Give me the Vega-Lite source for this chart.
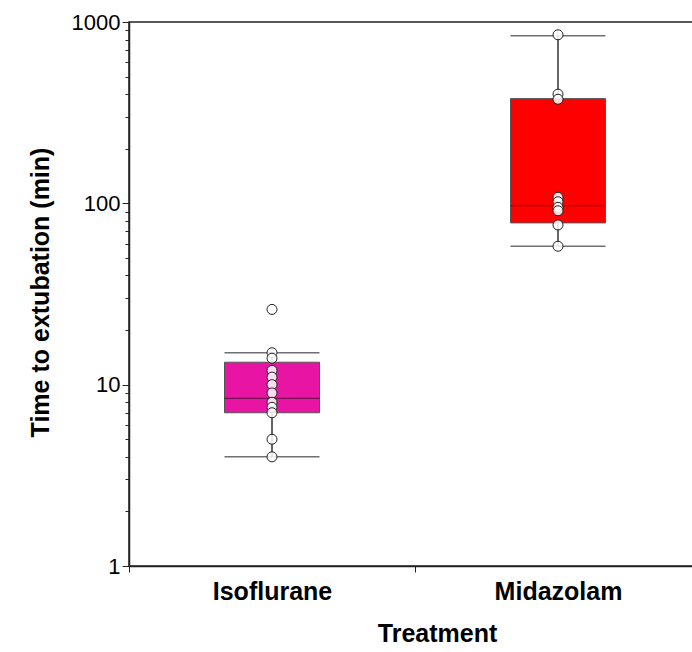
{
  "$schema": "https://vega.github.io/schema/vega-lite/v6.json",
  "width": 572,
  "height": 544,
  "autosize": "none",
  "padding": {"left": 129, "top": 22, "right": 0, "bottom": 86},
  "background": "white",
  "config": {
    "font": "Liberation Sans",
    "view": {"stroke": "#222222", "strokeWidth": 1.5}
  },
  "datasets": {
    "summary": [
      {"Treatment": "Isoflurane", "min": 4, "q1": 7, "median": 8.4, "q3": 13.3, "max": 15},
      {"Treatment": "Midazolam", "min": 58, "q1": 78, "median": 97, "q3": 378, "max": 840}
    ],
    "points": [
      {"Treatment": "Isoflurane", "time": 26},
      {"Treatment": "Isoflurane", "time": 15},
      {"Treatment": "Isoflurane", "time": 14},
      {"Treatment": "Isoflurane", "time": 12},
      {"Treatment": "Isoflurane", "time": 11},
      {"Treatment": "Isoflurane", "time": 10},
      {"Treatment": "Isoflurane", "time": 9},
      {"Treatment": "Isoflurane", "time": 8},
      {"Treatment": "Isoflurane", "time": 7.5},
      {"Treatment": "Isoflurane", "time": 7},
      {"Treatment": "Isoflurane", "time": 5},
      {"Treatment": "Isoflurane", "time": 4},
      {"Treatment": "Midazolam", "time": 850},
      {"Treatment": "Midazolam", "time": 400},
      {"Treatment": "Midazolam", "time": 375},
      {"Treatment": "Midazolam", "time": 108},
      {"Treatment": "Midazolam", "time": 102},
      {"Treatment": "Midazolam", "time": 95},
      {"Treatment": "Midazolam", "time": 91},
      {"Treatment": "Midazolam", "time": 76},
      {"Treatment": "Midazolam", "time": 58}
    ]
  },
  "encoding": {
    "x": {
      "field": "Treatment",
      "type": "nominal",
      "sort": ["Isoflurane", "Midazolam"],
      "scale": {"domain": ["Isoflurane", "Midazolam"], "paddingInner": 0, "paddingOuter": 0},
      "axis": {
        "title": "Treatment",
        "labelAngle": 0,
        "labelFont": "Liberation Sans",
        "labelFontSize": 25,
        "labelFontWeight": "bold",
        "labelColor": "black",
        "labelPadding": 7,
        "tickBand": "extent",
        "tickSize": 6,
        "tickColor": "#222222",
        "domainColor": "#222222",
        "domainWidth": 1.5,
        "titleFont": "Liberation Sans",
        "titleFontSize": 25,
        "titleFontWeight": "bold",
        "titleColor": "black",
        "titleX": 308,
        "titleY": 67,
        "titleBaseline": "middle",
        "titleAlign": "center"
      }
    }
  },
  "layer": [
    {
      "data": {"name": "summary"},
      "mark": {"type": "rule", "color": "#333333", "strokeWidth": 1.5},
      "encoding": {
        "y": {
          "field": "min",
          "type": "quantitative",
          "scale": {"type": "log", "domain": [1, 1000], "nice": false},
          "axis": {
            "title": "Time to extubation (min)",
            "values": [1, 2, 3, 4, 5, 6, 7, 8, 9, 10, 20, 30, 40, 50, 60, 70, 80, 90, 100, 200, 300, 400, 500, 600, 700, 800, 900, 1000],
            "format": "d",
            "labelExpr": "indexof([1, 10, 100, 1000], datum.value) >= 0 ? datum.label : ''",
            "tickSize": {"condition": {"test": "indexof([1, 10, 100, 1000], datum.value) >= 0", "value": 7}, "value": 4},
            "tickColor": "#222222",
            "domainColor": "#222222",
            "domainWidth": 1.5,
            "grid": false,
            "labelFont": "Liberation Sans",
            "labelFontSize": 22,
            "labelColor": "black",
            "labelPadding": 2,
            "labelOverlap": false,
            "titleFont": "Liberation Sans",
            "titleFontSize": 25,
            "titleFontWeight": "bold",
            "titleColor": "black",
            "titleAngle": 270,
            "titleX": -89,
            "titleY": 270,
            "titleBaseline": "middle",
            "titleAlign": "center"
          }
        },
        "y2": {"field": "max"}
      }
    },
    {
      "data": {"name": "summary"},
      "mark": {"type": "bar", "size": 95, "stroke": "#555555", "strokeWidth": 1},
      "encoding": {
        "y": {"field": "q1", "type": "quantitative"},
        "y2": {"field": "q3"},
        "color": {
          "field": "Treatment",
          "type": "nominal",
          "scale": {"domain": ["Isoflurane", "Midazolam"], "range": ["#e815a4", "#ff0000"]},
          "legend": null
        }
      }
    },
    {
      "data": {"name": "summary"},
      "mark": {"type": "tick", "size": 95, "thickness": 1.2, "color": "black", "opacity": 0.5},
      "encoding": {"y": {"field": "median", "type": "quantitative"}}
    },
    {
      "data": {"name": "summary"},
      "mark": {"type": "tick", "size": 95, "thickness": 1.5, "color": "#333333"},
      "encoding": {"y": {"field": "min", "type": "quantitative"}}
    },
    {
      "data": {"name": "summary"},
      "mark": {"type": "tick", "size": 95, "thickness": 1.5, "color": "#333333"},
      "encoding": {"y": {"field": "max", "type": "quantitative"}}
    },
    {
      "data": {"name": "points"},
      "mark": {"type": "point", "shape": "circle", "filled": false, "fill": "white", "fillOpacity": 0.85, "stroke": "#222222", "strokeWidth": 1, "size": 100, "opacity": 1},
      "encoding": {"y": {"field": "time", "type": "quantitative"}}
    }
  ]
}
